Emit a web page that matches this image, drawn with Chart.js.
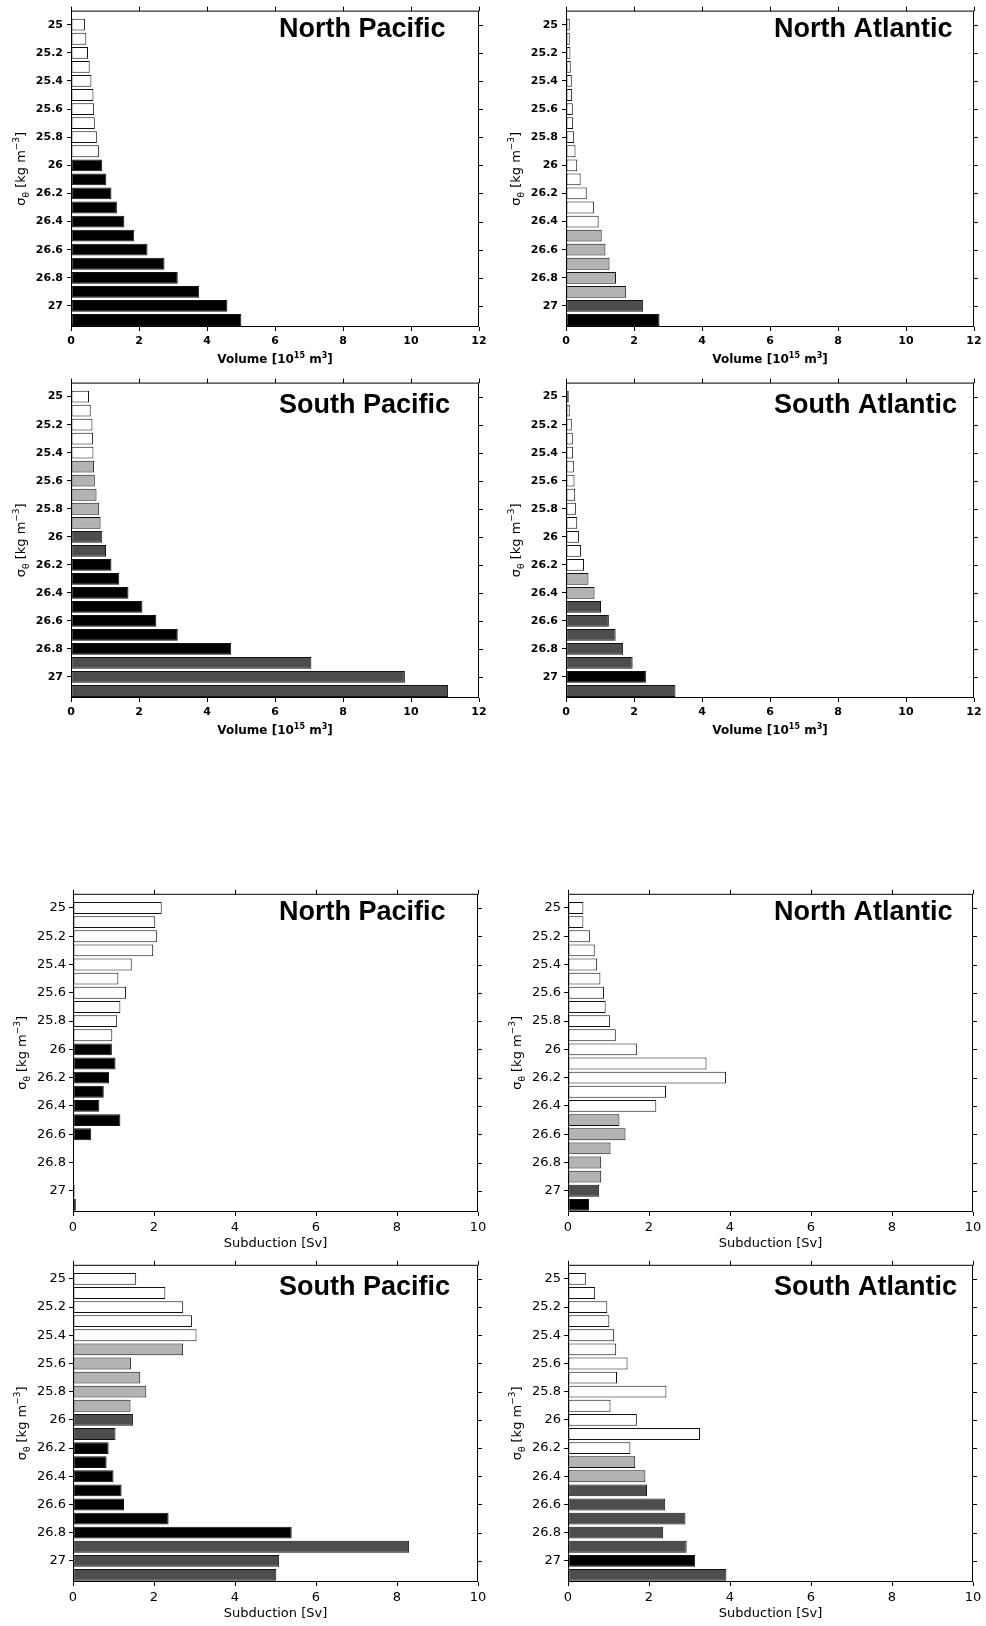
<!DOCTYPE html>
<html>
<head>
<meta charset="utf-8">
<script src="https://cdn.jsdelivr.net/npm/chart.js@4.4.1/dist/chart.umd.min.js"></script>
<style>
  html, body { margin: 0; padding: 0; background: #fff; }
  #page { position: relative; width: 986px; height: 1626px; overflow: hidden; background: #fff; }
  #page canvas { position: absolute; }
</style>
</head>
<body>
<div id="page"></div>
<script>
// Density classes, sigma-theta [kg m^-3], 0.1 bins
const sigmaLevels = [25.0, 25.1, 25.2, 25.3, 25.4, 25.5, 25.6, 25.7, 25.8, 25.9, 26.0,
                     26.1, 26.2, 26.3, 26.4, 26.5, 26.6, 26.7, 26.8, 26.9, 27.0, 27.1];
const sigmaTicks = [25, 25.2, 25.4, 25.6, 25.8, 26, 26.2, 26.4, 26.6, 26.8, 27];
const sigmaTickLabels = ['25', '25.2', '25.4', '25.6', '25.8', '26', '26.2', '26.4', '26.6', '26.8', '27'];
const volumeTicks = [0, 2, 4, 6, 8, 10, 12];
const subductionTicks = [0, 2, 4, 6, 8, 10];

// Volume per density class [10^15 m^3]
const volNorthPacific  = [0.41, 0.45, 0.50, 0.55, 0.60, 0.66, 0.68, 0.70, 0.76, 0.82, 0.92,
                          1.04, 1.19, 1.35, 1.57, 1.86, 2.25, 2.75, 3.14, 3.77, 4.60, 5.01];
const volNorthAtlantic = [0.11, 0.11, 0.13, 0.14, 0.17, 0.18, 0.20, 0.21, 0.24, 0.28, 0.33,
                          0.43, 0.61, 0.82, 0.96, 1.05, 1.16, 1.28, 1.47, 1.77, 2.27, 2.75];
const volSouthPacific  = [0.53, 0.58, 0.63, 0.65, 0.66, 0.68, 0.70, 0.75, 0.83, 0.87, 0.92,
                          1.03, 1.19, 1.42, 1.69, 2.10, 2.51, 3.14, 4.71, 7.07, 9.82, 11.09];
const volSouthAtlantic = [0.08, 0.11, 0.17, 0.20, 0.21, 0.23, 0.25, 0.27, 0.29, 0.33, 0.38,
                          0.44, 0.53, 0.66, 0.84, 1.03, 1.26, 1.46, 1.68, 1.96, 2.35, 3.22];

// Subduction rate per density class [Sv]
const subNorthPacific  = [2.19, 2.03, 2.07, 1.98, 1.45, 1.12, 1.31, 1.17, 1.09, 0.97, 0.96,
                          1.05, 0.89, 0.76, 0.65, 1.17, 0.45, 0.02, 0.02, 0.02, 0.04, 0.07];
const subNorthAtlantic = [0.38, 0.38, 0.54, 0.66, 0.72, 0.80, 0.89, 0.93, 1.04, 1.18, 1.70,
                          3.42, 3.90, 2.42, 2.18, 1.27, 1.42, 1.05, 0.82, 0.82, 0.77, 0.52];
const subSouthPacific  = [1.56, 2.28, 2.72, 2.94, 3.05, 2.72, 1.43, 1.66, 1.81, 1.42, 1.48,
                          1.05, 0.88, 0.83, 1.00, 1.20, 1.26, 2.36, 5.40, 8.30, 5.09, 5.02];
const subSouthAtlantic = [0.44, 0.67, 0.97, 1.02, 1.14, 1.19, 1.47, 1.21, 2.43, 1.05, 1.70,
                          3.26, 1.54, 1.66, 1.91, 1.95, 2.40, 2.90, 2.35, 2.93, 3.14, 3.91];

// Water-mass class of each density bin: 0 white, 1 light grey, 2 dark grey, 3 black
const classNorthPacific  = [0, 0, 0, 0, 0, 0, 0, 0, 0, 0, 3, 3, 3, 3, 3, 3, 3, 3, 3, 3, 3, 3];
const classNorthAtlantic = [0, 0, 0, 0, 0, 0, 0, 0, 0, 0, 0, 0, 0, 0, 0, 1, 1, 1, 1, 1, 2, 3];
const classSouthPacific  = [0, 0, 0, 0, 0, 1, 1, 1, 1, 1, 2, 2, 3, 3, 3, 3, 3, 3, 3, 2, 2, 2];
const classSouthAtlantic = [0, 0, 0, 0, 0, 0, 0, 0, 0, 0, 0, 0, 0, 1, 1, 2, 2, 2, 2, 2, 3, 2];

const regionTitles = ['North Pacific', 'North Atlantic', 'South Pacific', 'South Atlantic'];

const classFill = ['#ffffff', '#b3b3b3', '#4d4d4d', '#000000'];

// Panel styling for the two kinds of figure
const KIND = {
  volume: {
    xMax: 12, xTicks: volumeTicks,
    tickFont: { family: 'DejaVu Sans', size: 11, weight: 'bold' },
    titleWeight: 'bold', titleSize: 12,
    xTitle: [{ t: 'Volume [10' }, { t: '15', sup: true }, { t: ' m' }, { t: '3', sup: true }, { t: ']' }],
    xTitleBase: 36, yTickPad: 4, titleLeft: 208
  },
  subduction: {
    xMax: 10, xTicks: subductionTicks,
    tickFont: { family: 'DejaVu Sans', size: 13, weight: 'normal' },
    titleWeight: 'normal', titleSize: 13,
    xTitle: [{ t: 'Subduction [Sv]' }],
    xTitleBase: 35, yTickPad: 3, titleLeft: 206
  }
};

// Plot-area rectangles on the page
const panels = [
  { kind: 'volume', title: 0, values: volNorthPacific,  classes: classNorthPacific,  l: 71,  t: 9,    w: 408, h: 318, north: true },
  { kind: 'volume', title: 1, values: volNorthAtlantic, classes: classNorthAtlantic, l: 566, t: 9,    w: 408, h: 318, north: true },
  { kind: 'volume', title: 2, values: volSouthPacific,  classes: classSouthPacific,  l: 71,  t: 381,  w: 408, h: 317, north: false },
  { kind: 'volume', title: 3, values: volSouthAtlantic, classes: classSouthAtlantic, l: 566, t: 381,  w: 408, h: 317, north: false },
  { kind: 'subduction', title: 0, values: subNorthPacific,  classes: classNorthPacific,  l: 73,  t: 892,  w: 405, h: 320, north: true },
  { kind: 'subduction', title: 1, values: subNorthAtlantic, classes: classNorthAtlantic, l: 568, t: 892,  w: 405, h: 320, north: true },
  { kind: 'subduction', title: 2, values: subSouthPacific,  classes: classSouthPacific,  l: 73,  t: 1263, w: 405, h: 319, north: false },
  { kind: 'subduction', title: 3, values: subSouthAtlantic, classes: classSouthAtlantic, l: 568, t: 1263, w: 405, h: 319, north: false }
];

const Y_AXIS_W = 70, PAD_TOP = 9, PAD_RIGHT = 14, X_AXIS_H = 48;

// Draws a line of text with superscript / subscript runs, centred on x = 0
function drawRuns(ctx, runs, weight, size, family) {
  let total = 0;
  const parts = runs.map(r => {
    const s = (r.sup || r.sub) ? Math.round(size * 0.7) : size;
    ctx.font = `${weight} ${s}px ${family}`;
    const w = ctx.measureText(r.t).width;
    total += w;
    return { t: r.t, s, w, dy: r.sup ? -size * 0.45 : (r.sub ? size * 0.3 : 0) };
  });
  let x = -total / 2;
  parts.forEach(p => {
    ctx.font = `${weight} ${p.s}px ${family}`;
    ctx.fillText(p.t, x, p.dy);
    x += p.w;
  });
}

const framePlugin = {
  id: 'panelFrame',
  afterDraw(chart, args, opts) {
    const { ctx, chartArea: a, scales } = chart;
    const k = KIND[opts.kind];
    ctx.save();
    ctx.strokeStyle = '#000';
    ctx.lineWidth = 1;
    // box around the plot area
    ctx.strokeRect(a.left + 0.5, a.top + 0.5, a.right - a.left - 1, a.bottom - a.top - 1);
    // mirrored tick marks on top and right edges
    ctx.beginPath();
    scales.x.ticks.forEach(tk => {
      const px = Math.round(scales.x.getPixelForValue(tk.value)) + 0.5;
      ctx.moveTo(px, a.top - 4); ctx.lineTo(px, a.top + 0.5);
    });
    scales.y.ticks.forEach(tk => {
      const py = Math.round(scales.y.getPixelForValue(tk.value)) + 0.5;
      ctx.moveTo(a.right - 0.5, py); ctx.lineTo(a.right + 4, py);
    });
    ctx.stroke();

    ctx.fillStyle = '#000';
    ctx.textAlign = 'left';
    ctx.textBaseline = 'alphabetic';
    // region name inside the frame
    ctx.font = 'bold 27px "Liberation Sans", Arial, sans-serif';
    ctx.fillText(opts.title, a.left + k.titleLeft, a.top + (opts.north ? 26 : 30.5));

    // x-axis title
    ctx.save();
    ctx.translate((a.left + a.right) / 2, a.bottom + k.xTitleBase);
    drawRuns(ctx, k.xTitle, k.titleWeight, k.titleSize, '"DejaVu Sans"');
    ctx.restore();

    // y-axis title, rotated
    ctx.save();
    ctx.translate(a.left - (opts.kind === 'volume' ? 46 : 47), (a.top + a.bottom) / 2);
    ctx.rotate(-Math.PI / 2);
    drawRuns(ctx, [{ t: 'σ' }, { t: 'θ', sub: true }, { t: ' [kg m' }, { t: '−3', sup: true }, { t: ']' }],
      'normal', 13, '"DejaVu Sans"');
    ctx.restore();
    ctx.restore();
  }
};

const page = document.getElementById('page');

panels.forEach(p => {
  const k = KIND[p.kind];
  const canvas = document.createElement('canvas');
  const cw = p.w + Y_AXIS_W + PAD_RIGHT;
  const ch = p.h + PAD_TOP + X_AXIS_H;
  canvas.width = cw; canvas.height = ch;
  canvas.style.width = cw + 'px'; canvas.style.height = ch + 'px';
  canvas.style.left = (p.l - Y_AXIS_W) + 'px';
  canvas.style.top = (p.t - PAD_TOP) + 'px';
  page.appendChild(canvas);

  new Chart(canvas, {
    type: 'bar',
    data: {
      datasets: [{
        data: sigmaLevels.map((s, i) => ({ x: p.values[i], y: s })),
        backgroundColor: p.classes.map(c => classFill[c]),
        borderColor: '#111',
        borderWidth: 1,
        borderSkipped: false,
        barPercentage: 0.84,
        categoryPercentage: 1
      }]
    },
    options: {
      indexAxis: 'y',
      responsive: false,
      animation: false,
      devicePixelRatio: 1,
      layout: { padding: { top: PAD_TOP, right: PAD_RIGHT, left: 0, bottom: 0 } },
      plugins: {
        legend: { display: false },
        tooltip: { enabled: false },
        panelFrame: { kind: p.kind, title: regionTitles[p.title], north: p.north }
      },
      scales: {
        x: {
          type: 'linear', position: 'bottom', min: 0, max: k.xMax, offset: false,
          afterBuildTicks: s => { s.ticks = k.xTicks.map(v => ({ value: v })); },
          afterFit: s => { s.height = X_AXIS_H; },
          ticks: { color: '#000', font: k.tickFont, padding: 4, maxRotation: 0, autoSkip: false,
                   callback: v => String(v) },
          grid: { drawOnChartArea: false, drawTicks: true, tickLength: 4, color: '#000', lineWidth: 1, offset: false },
          border: { display: false }
        },
        y: {
          type: 'linear', position: 'left', reverse: true, min: 24.9, max: 27.15, offset: false,
          afterBuildTicks: s => { s.ticks = sigmaTicks.map(v => ({ value: v })); },
          afterFit: s => { s.width = Y_AXIS_W; },
          ticks: { color: '#000', font: k.tickFont, padding: k.yTickPad, autoSkip: false,
                   callback: (v, i) => sigmaTickLabels[i] },
          grid: { drawOnChartArea: false, drawTicks: true, tickLength: 4, color: '#000', lineWidth: 1, offset: false },
          border: { display: false }
        }
      }
    },
    plugins: [framePlugin]
  });
});
</script>
</body>
</html>
